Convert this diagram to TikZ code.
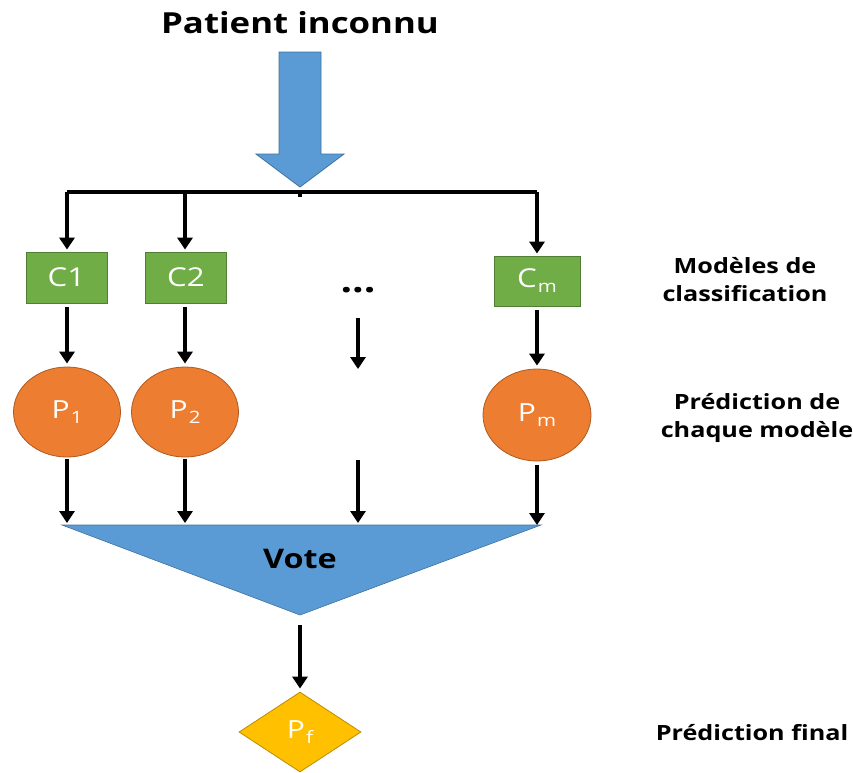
\documentclass[tikz,border=0pt]{standalone}
\usepackage{fontspec}
\usepackage{graphicx}
\setmainfont{Open Sans}
\usetikzlibrary{arrows.meta,shapes.geometric}

\definecolor{ablue}{HTML}{5B9BD5}
\definecolor{ablueline}{HTML}{41719C}
\definecolor{agreen}{HTML}{70AD47}
\definecolor{agreenline}{HTML}{507E32}
\definecolor{aorange}{HTML}{ED7D31}
\definecolor{aorangeline}{HTML}{AE5A21}
\definecolor{agold}{HTML}{FFC000}
\definecolor{agoldline}{HTML}{BC8C00}

% slightly widened lettering
\newcommand{\wide}[1]{\scalebox{1.2}[1]{#1}}
\newcommand{\lowidx}[1]{\kern1pt\raisebox{-5pt}{\fontsize{17}{17}\selectfont #1}}

\tikzset{
  model/.style={rectangle, fill=agreen, draw=agreenline, line width=0.8pt,
    minimum width=81pt, minimum height=51pt, inner sep=0pt,
    text=white, font=\fontsize{26}{26}\selectfont},
  pred/.style={ellipse, fill=aorange, draw=aorangeline, line width=0.8pt,
    minimum width=107pt, minimum height=90pt, inner sep=0pt,
    text=white, font=\fontsize{25}{25}\selectfont},
  final/.style={diamond, fill=agold, draw=agoldline, line width=0.8pt,
    minimum width=122pt, minimum height=80pt, inner sep=0pt, aspect=1.5,
    text=white, font=\fontsize{25}{25}\selectfont},
  sidelabel/.style={align=center, font=\bfseries\fontsize{21}{28}\selectfont},
  flow/.style={line width=3.2pt, -{Triangle[width=15pt,length=12pt]}},
}

\begin{document}
\begin{tikzpicture}[x=1pt,y=-1pt]
\useasboundingbox (0,0) rectangle (853,772);

% title and the wide input arrow
\node[anchor=base, font=\bfseries\fontsize{29}{29}\selectfont] (title) at (300,33) {\wide{Patient inconnu}};
\draw[fill=ablue, draw=ablueline, line width=0.8pt]
  (279,52) -- (321,52) -- (321,154) -- (344,154) -- (300,187)
  -- (256,154) -- (279,154) -- cycle;

% distribution bar
\coordinate (b1) at (67,192);
\coordinate (b2) at (185,192);
\coordinate (bc) at (300,192);
\coordinate (bm) at (537,192);
\draw[line width=3.2pt, line join=round] (b1) -- (bm);
\draw[line width=3.2pt] (bc) -- (300,197);

% classification models
\node[model] (c1) at (66.5,277.5) {\wide{C1}};
\node[model] (c2) at (186,277.5) {\wide{C2}};
\node[anchor=base, font=\bfseries\fontsize{34}{34}\selectfont] (dots) at (358,292) {\wide{...}};
\node[model, minimum width=86pt, minimum height=50pt] (cm) at (537,281) {\wide{C\lowidx{m}}};

\draw[flow, shorten >=2pt] (b1) -- (b1 |- c1.north);
\draw[flow, shorten >=2pt] (b2) -- (b2 |- c2.north);
\draw[flow, shorten >=2pt] (bm) -- (bm |- cm.north);

% predictions of each model
\node[pred] (p1) at (67,412) {\wide{P\lowidx{1}}};
\node[pred] (p2) at (185,412) {\wide{P\lowidx{2}}};
\node[pred, minimum width=108pt, minimum height=92pt] (pm) at (537,415) {\wide{P\lowidx{m}}};

\coordinate (d1) at (358,318);
\coordinate (d2) at (358,369);
\coordinate (d3) at (358,460);

\draw[flow, shorten <=4pt, shorten >=3pt] (p1 |- c1.south) -- (p1.north);
\draw[flow, shorten <=4pt, shorten >=3pt] (p2 |- c2.south) -- (p2.north);
\draw[flow] (d1) -- (d2);
\draw[flow, shorten <=4pt, shorten >=3pt] (pm |- cm.south) -- (pm.north);

% vote
\coordinate (tl) at (62,525);
\coordinate (tr) at (541,525);
\coordinate (tb) at (300,615);
\draw[fill=ablue, draw=ablueline, line width=0.6pt] (tl) -- (tr) -- (tb) -- cycle;
\node[anchor=base, font=\bfseries\fontsize{27}{27}\selectfont] (vote) at (300,568) {\wide{Vote}};

\coordinate (v1) at (67,523);
\coordinate (v2) at (185,523);
\coordinate (v3) at (358,523);
\coordinate (vm) at (537,525);
\draw[flow, shorten <=2pt] (p1.south) -- (v1);
\draw[flow, shorten <=2pt] (p2.south) -- (v2);
\draw[flow] (d3) -- (v3);
\draw[flow, shorten <=4pt] (pm.south) -- (vm);

% final prediction
\node[final] (pf) at (300,732) {\wide{P\lowidx{f}}};
\coordinate (vb) at (300,625);
\draw[flow, shorten >=3pt] (vb) -- (pf.north);

% row labels
\node[sidelabel] (lab1) at (745,282) {\wide{\begin{tabular}{@{}c@{}}Modèles de\\classification\end{tabular}}};
\node[sidelabel] (lab2) at (757,418) {\wide{\begin{tabular}{@{}c@{}}Prédiction de\\chaque modèle\end{tabular}}};
\node[sidelabel] (lab3) at (752,733) {\wide{Prédiction final}};
\end{tikzpicture}
\end{document}
